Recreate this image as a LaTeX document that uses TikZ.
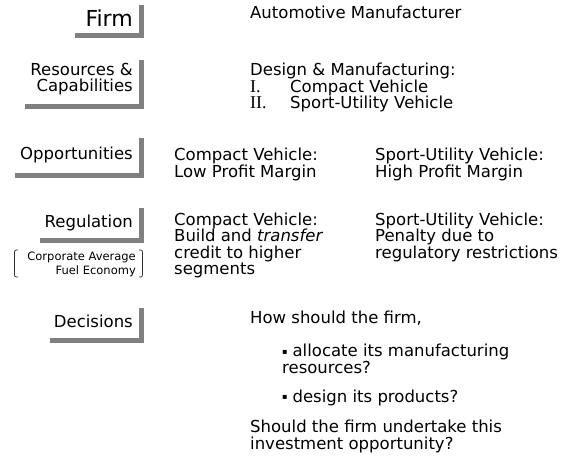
\documentclass[tikz,border=0pt]{standalone}
\usepackage{fontspec}
\setmainfont{DejaVu Sans}
\newfontfamily\romanfont{Liberation Serif}
\usepackage{xcolor}
\definecolor{bargray}{RGB}{128,128,128}

% small square bullet, roman list numbers
\newcommand{\sqbullet}{\raisebox{2.2pt}{\fontsize{8}{8}\selectfont ▪}\hspace{5pt}}
\newcommand{\listnum}[1]{\makebox[40pt][l]{\romanfont\fontsize{18}{15.5}\selectfont #1}}

\tikzset{
  label/.style={anchor=base east, inner sep=0pt, align=right, font=\fontsize{16.5}{16.5}\selectfont},
  body/.style={anchor=base west, inner sep=0pt, align=left, font=\fontsize{16.5}{16.5}\selectfont},
  shadebar/.style={draw=bargray, line width=4.5pt, miter limit=10},
  brace/.style={draw=black!80, line width=0.8pt, rounded corners=2pt}
}

\begin{document}
\begin{tikzpicture}[x=1pt,y=-1pt]
\useasboundingbox (0,0) rectangle (568,460);
% labels down the left side (base = last line)
\node[label, font=\fontsize{22}{22}\selectfont](firm) at (133,27){Firm};
\node[label](res) at (133,92){Resources \&\\Capabilities};
\node[label](opp) at (133,159){Opportunities};
\node[label](reg) at (133,227){Regulation};
\node[label, font=\fontsize{11.5}{13.5}\selectfont](cafe) at (136,274){Corporate Average\\Fuel Economy};
\node[label](dec) at (133,327){Decisions};
% gray bars under the labels
\draw[shadebar] (75,35.5) -| (141.5,5);
\draw[shadebar] (25,106.5) -| (141.5,60);
\draw[shadebar] (15,175.5) -| (141.5,138);
\draw[shadebar] (40,240.5) -| (141.5,208);
\draw[shadebar] (50,340.5) -| (141.5,308);
% brackets round the CAFE note
\draw[brace] (18,250) -- (14.5,250) -- (14.5,277) -- (18,277);
\draw[brace] (139,250) -- (142.5,250) -- (142.5,277) -- (139,277);
% text on the right
\node[body](maker) at (250,19){Automotive Manufacturer};
\node[body, font=\fontsize{16.5}{15.5}\selectfont](design) at (250,109){Design \& Manufacturing:\\\listnum{I.}Compact Vehicle\\\listnum{II.}Sport-Utility Vehicle};
\node[body](oppcv) at (174,177){Compact Vehicle:\\Low Profit Margin};
\node[body](oppsuv) at (375,177){Sport-Utility Vehicle:\\High Profit Margin};
\node[body](regcv) at (174,274.5){Compact Vehicle:\\Build and \textit{transfer}\\credit to higher\\segments};
\node[body](regsuv) at (375,258){Sport-Utility Vehicle:\\Penalty due to\\regulatory restrictions};
\node[body](how) at (250,323){How should the firm,};
\node[body](alloc) at (282,373){\sqbullet allocate its manufacturing\\resources?};
\node[body](prod) at (282,402){\sqbullet design its products?};
\node[body](invest) at (250,449){Should the firm undertake this\\investment opportunity?};
\end{tikzpicture}
\end{document}
